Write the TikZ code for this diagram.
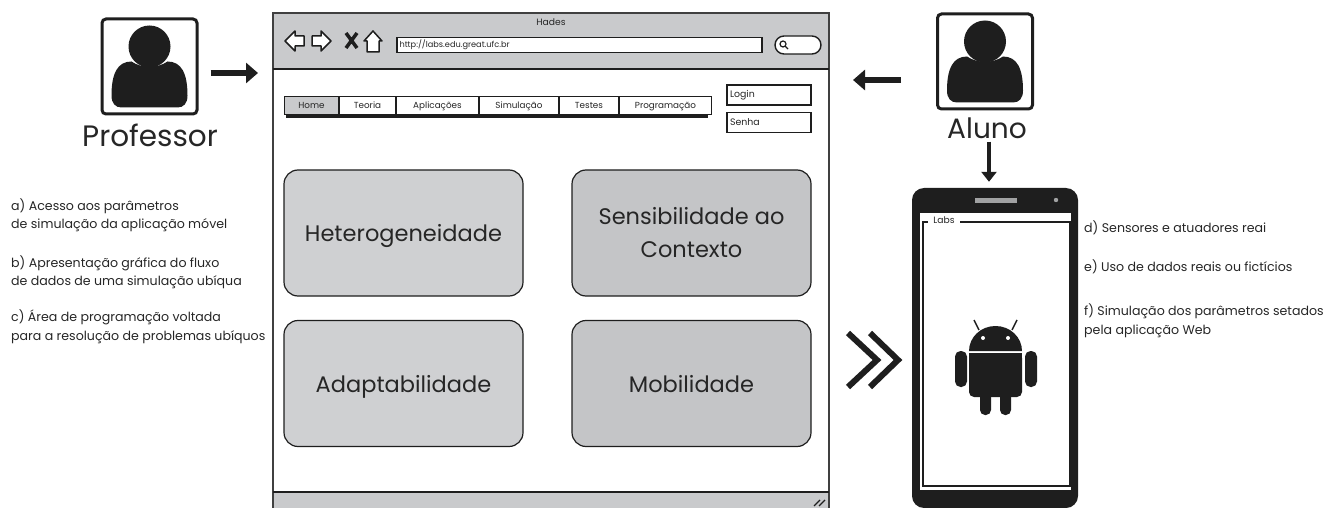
\documentclass[tikz,border=0pt]{standalone}
\usepackage{fontspec}
\setmainfont{Poppins}
\usetikzlibrary{positioning,arrows.meta}
\definecolor{chrome}{HTML}{C9CACC}
\definecolor{cardlight}{HTML}{CFD0D2}
\definecolor{carddark}{HTML}{C4C5C7}
\definecolor{ink}{HTML}{1E1E1E}
\definecolor{inksoft}{HTML}{262626}
\newcommand{\tabheight}{18pt}
\newcommand{\cardwidth}{239pt}
\newcommand{\cardheight}{126pt}
\newcommand{\fsz}[2]{\fontsize{#1}{#2}\selectfont}
\tikzstyle{usrbox}=[fill=white,draw=ink,line width=3pt,rounded corners=4pt,shape=rectangle,
                    minimum width=95pt,minimum height=95pt]
\tikzstyle{usrname}=[text=inksoft,font=\fsz{29.5}{32},inner sep=0pt]
\tikzstyle{note}=[text=inksoft,font=\fsz{12.6}{18.5},align=left,anchor=west,inner sep=0pt]
\tikzstyle{tabitem}=[fill=white,text=inksoft,draw=ink,line width=1pt,shape=rectangle,inner sep=0pt,
                     font=\fsz{8.8}{10},minimum height=\tabheight,text height=6.5pt,text depth=2pt]
\tikzstyle{field}=[fill=white,text=inksoft,draw=ink,line width=1.3pt,shape=rectangle,inner sep=3pt,
                   font=\fsz{9.4}{11},minimum width=84pt,minimum height=20pt,text width=78pt,align=left]
\tikzstyle{card}=[draw=ink,line width=1.2pt,rounded corners=14pt,shape=rectangle,text=inksoft,
                  font=\fsz{22.5}{33},align=center,minimum width=\cardwidth,minimum height=\cardheight]
\tikzstyle{cardone}=[card,text height=21pt,text depth=4pt]
\tikzstyle{bigarrow}=[draw=ink,line width=5.5pt,-{Triangle[length=12pt,width=20pt]}]
\tikzstyle{navglyph}=[fill=white,draw=ink,line width=1.5pt,line join=round]
\newcommand{\usrglyph}[1]{%
  \fill [ink] (#1) ++(0,-20) circle (21);
  \fill [ink] (#1) ++(-38,29) .. controls ++(0,-22) and ++(-14,0) .. ++(20,-34)
      .. controls ++(10,7) and ++(-10,7) .. ++(36,0)
      .. controls ++(14,0) and ++(0,-22) .. ++(20,34)
      .. controls ++(0,8) and ++(6,0) .. ++(-10,12) -- ++(-56,0)
      .. controls ++(-6,0) and ++(0,8) .. ++(-10,-12) -- cycle;
}
\begin{document}
\begin{tikzpicture}[x=1pt,y=-1pt]
\useasboundingbox (0,0) rectangle (1334,508);

% browser window
\node [draw=none, minimum width=556pt, minimum height=495pt, inner sep=0pt] (winbox) at (551,260.5) {};
\fill [chrome] (273,13) rectangle (829,69);
\fill [chrome] (273,492) rectangle (829,508);
\draw [ink!85, line width=1.4pt] (273,508) -- (273,13) -- (829,13) -- (829,508);
\draw [ink, line width=1.2pt] (273,69) -- (829,69);
\draw [ink, line width=1.2pt] (273,492) -- (829,492);
\node [inner sep=0pt, text=inksoft, font=\fsz{9.2}{11}] (wintitle) at (551,22) {Hades};

% toolbar
\filldraw [navglyph] (285,41) -- (295,31) -- (295,36) -- (304,36) -- (304,46) -- (295,46) -- (295,51) -- cycle;
\filldraw [navglyph] (331,41) -- (321,31) -- (321,36) -- (312,36) -- (312,46) -- (321,46) -- (321,51) -- cycle;
\draw [ink, line width=3.5pt] (346,33) -- (357,48) (357,33) -- (346,48);
\filldraw [navglyph] (373,31) -- (382,41) -- (379,41) -- (379,52) -- (367,52) -- (367,41) -- (364,41) -- cycle;
\node [field, minimum width=365pt, minimum height=15pt, text width=360pt, inner sep=2pt,
       font=\fsz{8.2}{9}, line width=1.5pt] (urlbar) at (579.5,45) {http://labs.edu.great.ufc.br};
\node [fill=white, draw=ink, line width=1.4pt, shape=rectangle, rounded corners=9pt,
       minimum width=46pt, minimum height=18pt, inner sep=0pt] (searchbox) at (798,45) {};
\draw [ink, line width=1.2pt] (783,44) circle (3) (785,46) -- (788,49);

% menu
\fill [ink] (286,112) rectangle (708,118);
\node [tabitem, fill=chrome, minimum width=54pt, anchor=west] (tabhome) at (284,106) {Home};
\node [tabitem, minimum width=56pt, right=0pt of tabhome] (tabteoria) {Teoria};
\node [tabitem, minimum width=82pt, right=0pt of tabteoria] (tabapl) {Aplicações};
\node [tabitem, minimum width=79pt, right=0pt of tabapl] (tabsim) {Simulação};
\node [tabitem, minimum width=59pt, right=0pt of tabsim] (tabtest) {Testes};
\node [tabitem, minimum width=92pt, right=0pt of tabtest] (tabprog) {Programação};

\node [field] (loginbox) at (769,95) {Login};
\node [field, below=6pt of loginbox] (senhabox) {Senha};

% cards
\node [cardone, fill=cardlight] (cardhet) at (403.5,233) {Heterogeneidade};
\node [card, fill=carddark] (cardsens) at (691.5,233) {Sensibilidade ao\\Contexto};
\node [cardone, fill=cardlight] (cardadp) at (403.5,383.5) {Adaptabilidade};
\node [cardone, fill=carddark] (cardmob) at (691.5,383.5) {Mobilidade};

% grip
\draw [ink, line width=1.2pt] (814,506) -- (820,500) (819,506) -- (825,500);

% professor
\node [usrbox] (profbox) at (149.5,66.5) {};
\usrglyph{profbox.center}
\node [usrname] (profname) at (150,135) {Professor};
\coordinate (profend) at (258,73);
\draw [bigarrow] ([yshift=-6.5pt]profbox.east) ++(12,0) -- (profend);

% aluno
\node [usrbox] (alunobox) at (985,61.5) {};
\usrglyph{alunobox.center}
\node [usrname, font=\fsz{28}{30}] (alunoname) at (987,128) {Aluno};
\coordinate (alunoend) at (853,80);
\draw [bigarrow] ([yshift=-18.5pt]alunobox.west) ++(-35,0) -- (alunoend);

% phone
\node [fill=ink, draw=none, shape=rectangle, rounded corners=12pt, minimum width=166pt,
       minimum height=320pt, inner sep=0pt] (phonebox) at (995,348) {};
\node [fill=white, draw=none, shape=rectangle, minimum width=151pt, minimum height=277pt,
       inner sep=0pt] (phonescreen) at (995.5,351.5) {};
\fill [chrome!80!black] (975,198) rectangle (1017,203);
\fill [chrome!80!black] (1056,200) circle (2.2);
\draw [ink, line width=1.5pt] (960,222) -- (1070,222) -- (1070,486) -- (923,486) -- (923,222) -- (928,222);
\node [inner sep=0pt, text=inksoft, font=\fsz{9.2}{11}] (phonetitle) at (944,220) {Labs};
\draw [bigarrow, line width=4pt, -{Triangle[length=10pt,width=15pt]}, shorten >=6pt] (alunoname.south -| 989,0) ++(0,3) -- (phonebox.north -| 989,0);

% android
\fill [ink] (969,351) arc [start angle=180, end angle=360, x radius=26.5, y radius=25] -- cycle;
\draw [ink, line width=1.4pt] (979,330) -- (974,320) (1012,330) -- (1017,320);
\fill [white] (983,338) circle (2) (1008,338) circle (2);
\fill [ink, rounded corners=5pt] (969,353) -- (1022,353) -- (1022,397) -- (969,397) -- cycle;
\fill [ink] (969,353) rectangle (1022,370);
\fill [ink, rounded corners=5.5pt] (955,351) rectangle (967,387) (1025,351) rectangle (1037,387);
\fill [ink, rounded corners=5pt] (980,390) rectangle (991,415) (1000,390) rectangle (1011,415);

% chevrons
\draw [ink, line width=6pt, line join=miter] (848,333) -- (877,360) -- (848,387);
\draw [ink, line width=6pt, line join=miter] (870,333) -- (898,360) -- (870,387);

% notes
\node [note] (notea) at (11,215.5) {a) Acesso aos parâmetros\\de simulação da aplicação móvel};
\node [note] (noteb) at (11,272.5) {b) Apresentação gráfica do fluxo\\de dados de uma simulação ubíqua};
\node [note] (notec) at (11,327) {c) Área de programação voltada\\para a resolução de problemas ubíquos};
\node [note] (noted) at (1084,228) {d) Sensores e atuadores reai};
\node [note] (notee) at (1084,267) {e) Uso de dados reais ou fictícios};
\node [note] (notef) at (1084,321) {f) Simulação dos parâmetros setados\\pela aplicação Web};
\end{tikzpicture}
\end{document}
